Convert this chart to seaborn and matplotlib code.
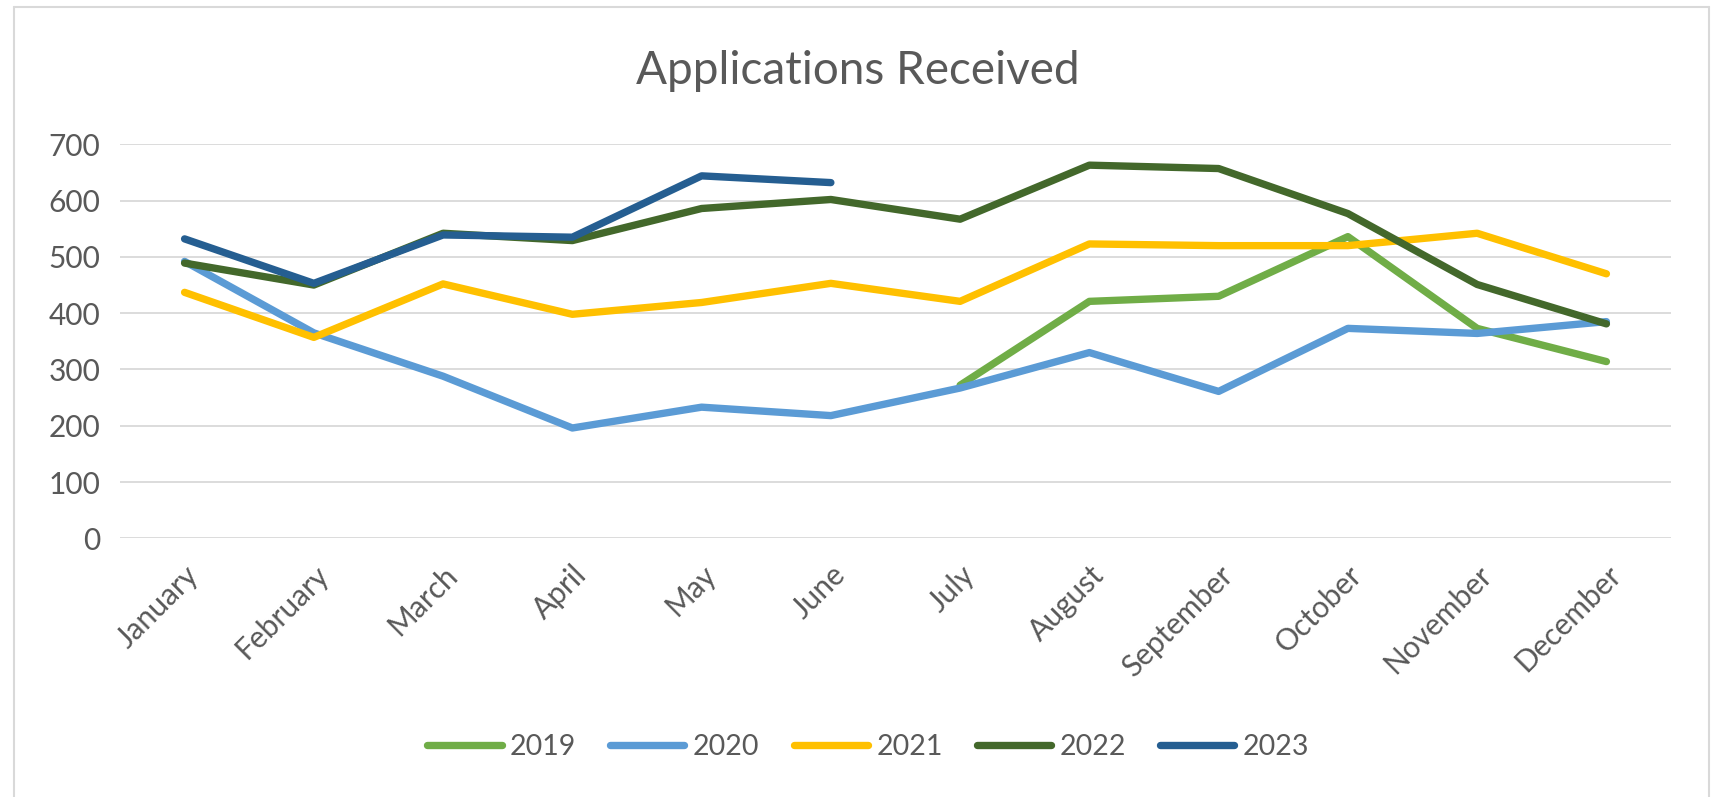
import numpy as np
import pandas as pd
import matplotlib
matplotlib.use("Agg")
import matplotlib.pyplot as plt
import seaborn as sns
from matplotlib.lines import Line2D

months = ["January", "February", "March", "April", "May", "June",
          "July", "August", "September", "October", "November", "December"]
nan = np.nan
y2019 = [nan, nan, nan, nan, nan, nan, 272, 421, 430, 536, 373, 314]
y2020 = [492, 365, 288, 196, 233, 218, 267, 330, 261, 373, 364, 385]
y2021 = [437, 357, 452, 398, 419, 453, 421, 523, 520, 520, 542, 470]
y2022 = [489, 450, 542, 529, 586, 602, 567, 663, 657, 577, 451, 381]
y2023 = [532, 453, 539, 535, 644, 632, nan, nan, nan, nan, nan, nan]
years = ["2019", "2020", "2021", "2022", "2023"]
colors = ["#70AD47", "#5B9BD5", "#FFC000", "#43682B", "#255E91"]

frames = []
for yr, vals in zip(years, [y2019, y2020, y2021, y2022, y2023]):
    frames.append(pd.DataFrame({"pos": np.arange(len(months)), "month": months,
                                "value": vals, "year": yr}))
df = pd.concat(frames).dropna()

sns.set_style("white")
plt.rcParams["font.family"] = ["Lato", "DejaVu Sans"]
txt = "#595959"

fig = plt.figure(figsize=(17.16, 7.97), dpi=100)
ax = fig.add_axes([0.0699, 0.3246, 0.9039, 0.4943])

palette = dict(zip(years, colors))
sns.lineplot(data=df, x="pos", y="value", hue="year", palette=palette,
             linewidth=5.3, ax=ax, legend=False, solid_capstyle="round",
             solid_joinstyle="round")

ax.set_xlim(-0.5, 11.5)
ax.set_ylim(0, 700)
ax.set_yticks(range(0, 701, 100))
ax.set_xticks(range(len(months)))
ax.set_xticklabels(months, rotation=45, ha="right", rotation_mode="anchor")
ax.tick_params(axis="both", length=0, labelsize=21.5, labelcolor=txt)
ax.tick_params(axis="y", pad=14)
ax.tick_params(axis="x", pad=16)
ax.grid(axis="y", color="#D9D9D9", linewidth=1.3)
ax.set_axisbelow(True)
for s in ax.spines.values():
    s.set_visible(False)
ax.set_xlabel("")
ax.set_ylabel("")

fig.text(0.5, 1 - 71 / 797, "Applications Received", ha="center", va="center",
         fontsize=33, color=txt)

handles = [Line2D([0], [0], color=c, linewidth=5.3, solid_capstyle="round")
           for c in colors]
fig.legend(handles, years, loc="center", bbox_to_anchor=(0.506, 1 - 747 / 797),
           ncol=5, frameon=False, fontsize=20.5, labelcolor=txt,
           handlelength=2.6, handletextpad=0.3, columnspacing=1.2)

# chart border
for xs, ys in [([14, 14], [797, 7]), ([14, 1709], [7, 7]), ([1709, 1709], [7, 797])]:
    fig.add_artist(Line2D([x / 1716 for x in xs], [1 - y / 797 for y in ys],
                          color="#D9D9D9", linewidth=1.5, transform=fig.transFigure))

fig.savefig("out.png", dpi=100)
